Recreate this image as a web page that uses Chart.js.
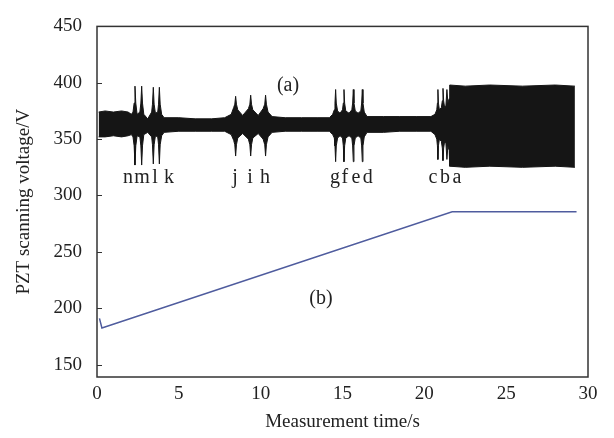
<!DOCTYPE html>
<html lang="en">
<head>
  <meta charset="UTF-8" />
  <title>PZT scanning voltage</title>
  <script src="https://cdn.jsdelivr.net/npm/chart.js@4.4.1/dist/chart.umd.min.js"></script>
  <style>
    body { margin: 0; background: #fff; }
    #wrap { width: 614px; height: 438px; }
  </style>
</head>
<body>
  <div id="wrap"><canvas id="chart" width="614" height="438"></canvas></div>
  <script>
    // signal (a): upper / lower envelope (one line per stretch)
    var sigTime = [
      0.1, 0.5, 1.0, 1.5, 1.9, 2.1,
      2.2, 2.27, 2.32, 2.37, 2.45,
      2.62, 2.68, 2.73, 2.78, 2.86, 3.1,
      3.34, 3.39, 3.44, 3.49, 3.57,
      3.71, 3.76, 3.81, 3.86, 3.95,
      4.1, 5, 6, 7, 7.8, 8.2,
      8.35, 8.42, 8.47, 8.52, 8.6, 8.9,
      9.25, 9.34, 9.39, 9.44, 9.52, 9.85,
      10.15, 10.25, 10.3, 10.35, 10.45,
      10.7, 11.5, 12.5, 13.5, 14.2, 14.4,
      14.5, 14.54, 14.58, 14.62, 14.7, 14.85,
      15.0, 15.05, 15.09, 15.13, 15.2, 15.4,
      15.57, 15.62, 15.66, 15.7, 15.78, 15.95,
      16.12, 16.17, 16.21, 16.25, 16.33,
      16.5, 17.5, 18.5, 19.5, 20.4, 20.65,
      20.76, 20.8, 20.83, 20.86, 20.92,
      21.04, 21.1, 21.14, 21.18, 21.24,
      21.32, 21.38, 21.44, 21.52,
      21.55, 22.5, 24, 26, 28, 29.2];
    var sigUpper = [
      374, 375, 374, 375, 374, 372,
      374, 382, 397, 382, 372,
      374, 382, 397, 382, 372, 368,
      374, 381, 396, 381, 373,
      374, 381, 396, 381, 372,
      369, 369, 368, 368, 369, 372,
      378, 381, 388, 381, 376, 371,
      377, 381, 389, 381, 376, 371,
      377, 381, 389, 381, 374,
      370, 369, 369, 369, 369, 372,
      376, 382, 394, 382, 375, 373,
      376, 382, 394, 382, 375, 373,
      376, 382, 394, 382, 375, 373,
      375, 382, 394, 382, 374,
      370, 370, 370, 370, 370, 372,
      376, 382, 394, 382, 376,
      378, 384, 395, 384, 378,
      380, 394, 382, 386,
      398, 397, 398, 397, 398, 397];
    var sigLower = [
      352, 352, 353, 352, 353, 354,
      352, 344, 327, 344, 353,
      352, 344, 327, 344, 354, 356,
      352, 345, 328, 345, 353,
      352, 345, 328, 345, 353,
      356, 357, 357, 357, 357, 354,
      349, 345, 335, 345, 351, 355,
      350, 345, 335, 345, 351, 355,
      350, 345, 335, 345, 352,
      356, 357, 357, 357, 357, 354,
      351, 344, 330, 344, 351, 353,
      351, 344, 330, 344, 351, 353,
      351, 344, 330, 344, 351, 353,
      351, 344, 330, 344, 352,
      356, 356, 357, 357, 357, 354,
      350, 344, 332, 344, 350,
      348, 342, 331, 342, 348,
      346, 332, 344, 340,
      326, 325, 326, 325, 326, 325];

    // ramp (b)
    var rampTime = [0.15, 0.3, 21.7, 29.3];
    var rampVolt = [191, 182.5, 285.5, 285.5];

    var xTicks = [0, 5, 10, 15, 20, 25, 30];
    var yTicks = [150, 200, 250, 300, 350, 400, 450];

    // peak letters and curve tags
    var tagText = ["n", "m", "l", "k", "j", "i", "h", "g", "f", "e", "d", "c", "b", "a", "(a)", "(b)"];
    var tagTime = [1.89, 2.75, 3.54, 4.4, 8.43, 9.35, 10.26, 14.54, 15.15, 15.82, 16.55, 20.53, 21.26, 21.99, 11.67, 13.68];
    var tagVolt = [316, 316, 316, 316, 316, 316, 316, 316, 316, 316, 316, 316, 316, 316, 397, 208];

    function pts(xs, ys) {
      return xs.map(function (x, i) { return { x: x, y: ys[i] }; });
    }

    var serif = '"Liberation Serif", "Times New Roman", serif';

    var boxAndTags = {
      id: "boxAndTags",
      afterDatasetsDraw: function (chart) {
        var ctx = chart.ctx, a = chart.chartArea;
        var xs = chart.scales.x, ys = chart.scales.y;
        ctx.save();
        ctx.strokeStyle = "#333";
        ctx.lineWidth = 1.5;
        ctx.strokeRect(a.left, a.top, a.right - a.left, a.bottom - a.top);
        // inner ticks on y axis
        ctx.lineWidth = 1;
        yTicks.forEach(function (v) {
          var py = Math.round(ys.getPixelForValue(v)) + 0.5;
          ctx.beginPath();
          ctx.moveTo(a.left, py);
          ctx.lineTo(a.left + 5, py);
          ctx.stroke();
        });
        ctx.fillStyle = "#222";
        ctx.font = "20px " + serif;
        ctx.textAlign = "center";
        ctx.textBaseline = "middle";
        tagText.forEach(function (t, i) {
          ctx.fillText(t, xs.getPixelForValue(tagTime[i]), ys.getPixelForValue(tagVolt[i]));
        });
        ctx.restore();
      }
    };

    var ctx = document.getElementById("chart").getContext("2d");
    var myChart = new Chart(ctx, {
      type: "line",
      data: {
        datasets: [
          {
            data: pts(sigTime, sigUpper),
            borderColor: "#151515",
            backgroundColor: "#151515",
            borderWidth: 1,
            pointRadius: 0,
            tension: 0,
            fill: "+1"
          },
          {
            data: pts(sigTime, sigLower),
            borderColor: "#151515",
            borderWidth: 1,
            pointRadius: 0,
            tension: 0,
            fill: false
          },
          {
            data: pts(rampTime, rampVolt),
            borderColor: "#4f5c9e",
            borderWidth: 1.5,
            pointRadius: 0,
            tension: 0,
            fill: false
          }
        ]
      },
      options: {
        responsive: false,
        animation: false,
        layout: { padding: { top: 13, right: 26, left: 0, bottom: 0 } },
        plugins: { legend: { display: false }, tooltip: { enabled: false } },
        scales: {
          x: {
            type: "linear",
            min: 0,
            max: 30,
            grid: { display: false, drawTicks: false },
            border: { display: false },
            afterBuildTicks: function (s) { s.ticks = xTicks.map(function (v) { return { value: v }; }); },
            afterFit: function (s) { s.height = 61; },
            ticks: { color: "#222", padding: 6, font: { family: serif, size: 19 } },
            title: {
              display: true,
              text: "Measurement time/s",
              color: "#222",
              padding: { top: 0, bottom: 5 },
              font: { family: serif, size: 19 }
            }
          },
          y: {
            min: 139,
            max: 450,
            grid: { display: false, drawTicks: false },
            border: { display: false },
            afterBuildTicks: function (s) { s.ticks = yTicks.map(function (v) { return { value: v }; }); },
            afterFit: function (s) { s.width = 97; },
            ticks: { color: "#222", padding: 15, font: { family: serif, size: 19 } },
            title: {
              display: true,
              text: "PZT scanning voltage/V",
              color: "#222",
              padding: { top: 13, bottom: 0 },
              font: { family: serif, size: 19 }
            }
          }
        }
      },
      plugins: [boxAndTags]
    });
  </script>
</body>
</html>
